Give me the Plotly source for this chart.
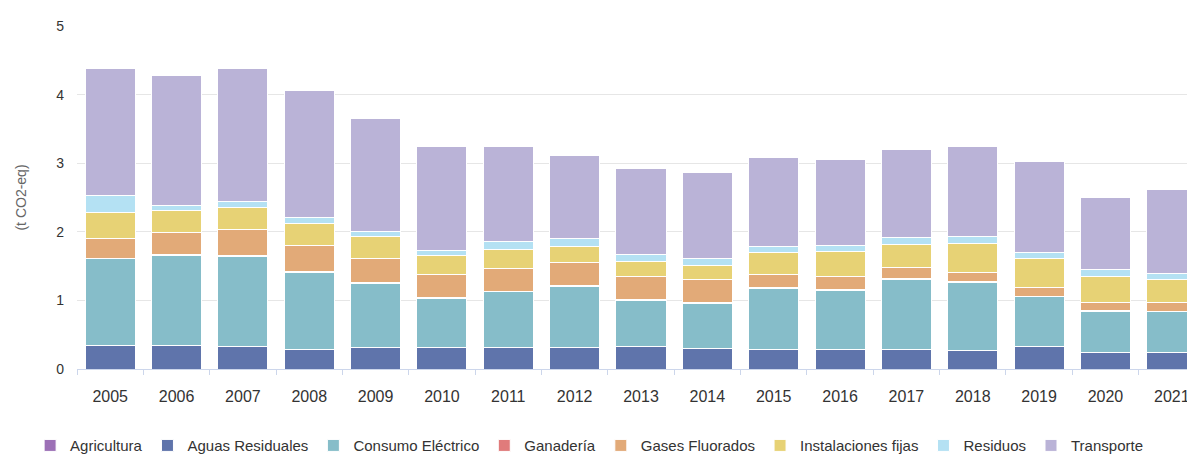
import plotly.graph_objects as go

years = ["2005", "2006", "2007", "2008", "2009", "2010", "2011", "2012", "2013",
         "2014", "2015", "2016", "2017", "2018", "2019", "2020", "2021"]

agricultura = [0] * 17
aguas_residuales = [0.347, 0.347, 0.323, 0.284, 0.308, 0.308, 0.308, 0.308, 0.323,
                    0.299, 0.284, 0.284, 0.284, 0.265, 0.333, 0.246, 0.246]
consumo_electrico = [1.257, 1.306, 1.315, 1.128, 0.945, 0.718, 0.815, 0.896, 0.674,
                     0.655, 0.887, 0.867, 1.022, 1.002, 0.717, 0.597, 0.587]
ganaderia = [0.01] * 17
gases_fluorados = [0.285, 0.332, 0.381, 0.385, 0.351, 0.337, 0.337, 0.338, 0.347,
                   0.342, 0.202, 0.193, 0.164, 0.135, 0.130, 0.111, 0.121]
instalaciones_fijas = [0.376, 0.313, 0.332, 0.318, 0.314, 0.275, 0.279, 0.236, 0.212,
                       0.202, 0.309, 0.352, 0.337, 0.424, 0.415, 0.390, 0.342]
residuos = [0.250, 0.078, 0.082, 0.087, 0.082, 0.082, 0.106, 0.111, 0.097,
            0.097, 0.101, 0.096, 0.096, 0.097, 0.091, 0.092, 0.087]
transporte = [1.856, 1.889, 1.938, 1.841, 1.648, 1.513, 1.388, 1.219, 1.262,
              1.262, 1.287, 1.258, 1.282, 1.310, 1.335, 1.060, 1.224]

series = [
    ("Agricultura", agricultura, "#9c70b6"),
    ("Aguas Residuales", aguas_residuales, "#5f74ab"),
    ("Consumo Eléctrico", consumo_electrico, "#86bdc9"),
    ("Ganadería", ganaderia, "#e07b7b"),
    ("Gases Fluorados", gases_fluorados, "#e2aa78"),
    ("Instalaciones fijas", instalaciones_fijas, "#e7d275"),
    ("Residuos", residuos, "#b4e1f3"),
    ("Transporte", transporte, "#bab3d7"),
]

fig = go.Figure()
for name, vals, color in series:
    fig.add_trace(go.Bar(
        x=years, y=vals, name=name,
        marker=dict(color=color, line=dict(color="white", width=1)),
    ))

FONT = "Liberation Sans, Arial, sans-serif"

# The page body adds an 8px offset; the chart is wider than the window and is
# clipped on the right, like the reference.
fig.update_layout(
    barmode="stack",
    bargap=0.246,
    width=1207, height=480,
    margin=dict(l=69, r=10, t=12, b=119),
    plot_bgcolor="white",
    paper_bgcolor="white",
    font=dict(family=FONT, color="#333333"),
    showlegend=True,
    legend=dict(
        orientation="h",
        x=0.454, xanchor="center",
        y=-0.2235, yanchor="middle",
        font=dict(size=15, color="#333333"),
        traceorder="normal",
        itemclick=False,
    ),
    xaxis=dict(
        type="category",
        range=[-0.5, 16.5],
        showline=True, linecolor="#ccd6eb", linewidth=1,
        ticks="outside", tickson="boundaries", ticklen=5, tickcolor="#ccd6eb",
        ticklabelstandoff=13,
        tickfont=dict(size=16, color="#333333"),
        showgrid=False,
        fixedrange=True,
    ),
    yaxis=dict(
        range=[0, 5],
        tickvals=[0, 1, 2, 3, 4, 5],
        gridcolor="#e6e6e6", gridwidth=1,
        zeroline=False,
        showline=False,
        ticks="",
        ticklabelstandoff=12,
        tickfont=dict(size=14, color="#333333"),
        title=dict(text="(t CO2-eq)", font=dict(size=14, color="#666666"), standoff=26),
        fixedrange=True,
    ),
)

fig.write_html("out.html")
